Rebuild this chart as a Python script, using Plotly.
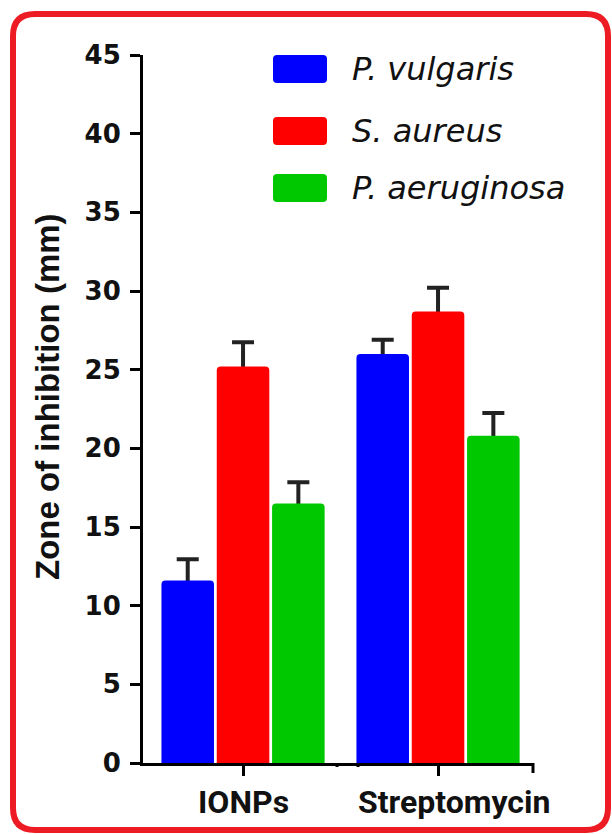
import plotly.graph_objects as go

# ---- data -------------------------------------------------------------
treatments = ["IONPs", "Streptomycin"]
organisms = ["P. vulgaris", "S. aureus", "P. aeruginosa"]
zone_vulgaris = [11.6, 26.0]
zone_aureus = [25.2, 28.7]
zone_aeruginosa = [16.5, 20.8]
err_vulgaris = [1.35, 0.9]
err_aureus = [1.55, 1.5]
err_aeruginosa = [1.35, 1.45]
y_ticks = [0, 5, 10, 15, 20, 25, 30, 35, 40, 45]

# ---- styles -----------------------------------------------------------
colors = ["#0000FF", "#FF0000", "#00C800"]
W, H = 612, 834
L, R, T, B = 143, 533, 55, 763   # plot area edges in pixels


def px(x):
    return (x - L) / (R - L)


def py(y):
    return (B - y) / (B - T)


series = [zone_vulgaris, zone_aureus, zone_aeruginosa]
errors = [err_vulgaris, err_aureus, err_aeruginosa]

fig = go.Figure()
# error bars first (upper half only is left visible) ...
for i, (name, vals, errs) in enumerate(zip(organisms, series, errors)):
    fig.add_trace(go.Bar(
        x=treatments, y=vals, name=name, offsetgroup=str(i),
        marker=dict(color="rgba(0,0,0,0)", line=dict(width=0)),
        error_y=dict(type="data", array=errs, arrayminus=[1.0] * len(errs),
                     symmetric=False, color="#222222", thickness=4, width=11),
        showlegend=False, hoverinfo="skip",
    ))
# ... then the bars themselves on top, hiding the lower part of each error bar
for i, (name, vals, col) in enumerate(zip(organisms, series, colors)):
    fig.add_trace(go.Bar(
        x=treatments, y=vals, name=name, offsetgroup=str(i),
        marker=dict(color=col, cornerradius=4, line=dict(width=0)),
        showlegend=False,
    ))

shapes = []

# rounded red frame around the whole figure
fx0, fx1, fy0, fy1, rr = 13, 608, 14, 830, 22
frame = (
    f"M {px(fx0 + rr)},{py(fy0)} L {px(fx1 - rr)},{py(fy0)} "
    f"Q {px(fx1)},{py(fy0)} {px(fx1)},{py(fy0 + rr)} "
    f"L {px(fx1)},{py(fy1 - rr)} Q {px(fx1)},{py(fy1)} {px(fx1 - rr)},{py(fy1)} "
    f"L {px(fx0 + rr)},{py(fy1)} Q {px(fx0)},{py(fy1)} {px(fx0)},{py(fy1 - rr)} "
    f"L {px(fx0)},{py(fy0 + rr)} Q {px(fx0)},{py(fy0)} {px(fx0 + rr)},{py(fy0)} Z"
)
shapes.append(dict(type="path", path=frame, xref="paper", yref="paper",
                   line=dict(color="#ED1C24", width=6), fillcolor="rgba(0,0,0,0)",
                   layer="below"))

# end mark at the right of the x axis
shapes.append(dict(type="line", xref="paper", yref="paper",
                   x0=1, x1=1, y0=0, y1=py(B + 10),
                   line=dict(color="black", width=3)))
# small break marks on the x axis between the groups
for bx in (337, 358):
    shapes.append(dict(type="line", xref="paper", yref="paper",
                       x0=px(bx), x1=px(bx), y0=0, y1=py(B + 4),
                       line=dict(color="black", width=3)))

annotations = []

# legend built from swatches and italic labels
leg_rows = [69, 131, 188]
for name, col, cy in zip(organisms, colors, leg_rows):
    sx0, sx1, sy0, sy1, cr = 273, 327, cy - 14, cy + 14, 4
    sw = (
        f"M {px(sx0 + cr)},{py(sy0)} L {px(sx1 - cr)},{py(sy0)} "
        f"Q {px(sx1)},{py(sy0)} {px(sx1)},{py(sy0 + cr)} "
        f"L {px(sx1)},{py(sy1 - cr)} Q {px(sx1)},{py(sy1)} {px(sx1 - cr)},{py(sy1)} "
        f"L {px(sx0 + cr)},{py(sy1)} Q {px(sx0)},{py(sy1)} {px(sx0)},{py(sy1 - cr)} "
        f"L {px(sx0)},{py(sy0 + cr)} Q {px(sx0)},{py(sy0)} {px(sx0 + cr)},{py(sy0)} Z"
    )
    shapes.append(dict(type="path", path=sw, xref="paper", yref="paper",
                       line=dict(width=0), fillcolor=col))
    annotations.append(dict(
        text=name, xref="paper", yref="paper", x=px(350), y=py(cy),
        xanchor="left", yanchor="middle", showarrow=False,
        font=dict(family="DejaVu Sans", size=32, color="#111111", style="italic"),
    ))

# category labels under the x axis
for cat, shift in zip(treatments, [0, 16]):
    annotations.append(dict(
        text=f"<b>{cat}</b>", xref="x", yref="paper", x=cat, y=py(802),
        xshift=shift, xanchor="center", yanchor="middle", showarrow=False,
        font=dict(family="Roboto", size=32, color="#111111"),
    ))

# y axis title
annotations.append(dict(
    text="<b>Zone of inhibition (mm)</b>", xref="paper", yref="paper",
    x=px(47), y=py(397), xanchor="center", yanchor="middle", textangle=-90,
    showarrow=False,
    font=dict(family="Liberation Sans", size=33, color="#111111"),
))

fig.update_layout(
    width=W, height=H,
    margin=dict(l=L, r=W - R, t=T, b=H - B, pad=0),
    paper_bgcolor="white", plot_bgcolor="white",
    barmode="group", bargap=0.149, bargroupgap=0.05,
    shapes=shapes, annotations=annotations,
    xaxis=dict(
        range=[-0.513, 1.487], showline=True, linecolor="black", linewidth=3,
        ticks="outside", ticklen=10, tickwidth=3, tickcolor="black",
        showticklabels=False, showgrid=False, zeroline=False, fixedrange=True,
    ),
    yaxis=dict(
        range=[0, 45], tickvals=y_ticks, showline=True, linecolor="black",
        linewidth=3, ticks="outside", ticklen=10, tickwidth=3, tickcolor="black",
        showgrid=False, zeroline=False, ticklabelstandoff=4,
        tickfont=dict(family="DejaVu Sans", size=26, color="#111111", weight="bold"),
    ),
)

fig.write_html("out.html")
